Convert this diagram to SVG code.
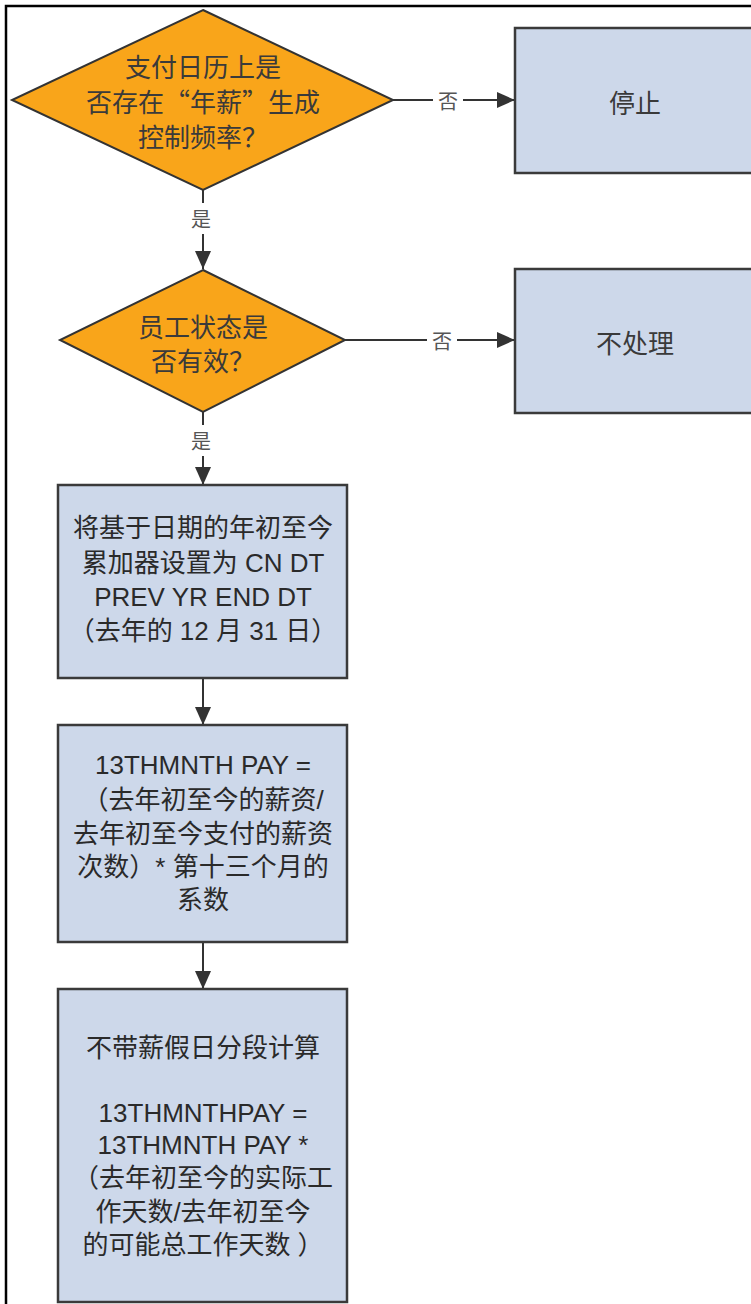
<svg xmlns="http://www.w3.org/2000/svg" width="751" height="1304" viewBox="0 0 751 1304">
<style>
.frame{fill:none;stroke:#000;stroke-width:2.5}
.dia{fill:#F9A51A;stroke:#333;stroke-width:2}
.box{fill:#CDD8EA;stroke:#3a3a3a;stroke-width:2.5}
.t{font-family:"Liberation Sans","Noto Sans CJK SC",sans-serif;font-size:26px;fill:#2a2a2a;text-anchor:middle;dominant-baseline:central}
.c{font-family:"Noto Sans CJK SC","Liberation Sans",sans-serif;font-size:26px;fill:#3a3a3a;text-anchor:middle;dominant-baseline:central}
.lbl{font-family:"Noto Sans CJK SC",sans-serif;font-size:20px;fill:#555;text-anchor:middle;dominant-baseline:central}
.ln{fill:none;stroke:#333;stroke-width:2}
</style>
<defs>
<marker id="ah" markerUnits="userSpaceOnUse" markerWidth="18" markerHeight="16" refX="18" refY="8" orient="auto">
<path d="M0,0 L18,8 L0,16 z" fill="#333"/>
</marker>
</defs>
<rect class="frame" x="6" y="6" width="760" height="1310"/>
<g id="connectors">
<line class="ln" x1="393" y1="100" x2="433" y2="100"/>
<line class="ln" x1="463" y1="100" x2="515" y2="100" marker-end="url(#ah)"/>
<text class="lbl" x="448" y="100">否</text>
<line class="ln" x1="203" y1="190" x2="203" y2="203"/>
<line class="ln" x1="203" y1="234" x2="203" y2="269" marker-end="url(#ah)"/>
<text class="lbl" x="201" y="218">是</text>
<line class="ln" x1="345" y1="340" x2="427" y2="340"/>
<line class="ln" x1="457" y1="340" x2="515" y2="340" marker-end="url(#ah)"/>
<text class="lbl" x="442" y="340">否</text>
<line class="ln" x1="203" y1="412" x2="203" y2="425"/>
<line class="ln" x1="203" y1="456" x2="203" y2="485" marker-end="url(#ah)"/>
<text class="lbl" x="201" y="440">是</text>
<line class="ln" x1="203" y1="678" x2="203" y2="725" marker-end="url(#ah)"/>
<line class="ln" x1="203" y1="942" x2="203" y2="989" marker-end="url(#ah)"/>
</g>
<g id="d1">
<polygon class="dia" points="203,10 393,100 203,190 12,100"/>
<text class="c" x="203" y="65">支付日历上是</text>
<text class="c" x="203" y="100">否存在“年薪”生成</text>
<text class="c" x="203" y="135">控制频率？</text>
</g>
<g id="stop">
<rect class="box" x="515" y="28" width="250" height="145"/>
<text class="c" x="635" y="101">停止</text>
</g>
<g id="d2">
<polygon class="dia" points="203,270 345,340 203,412 60,340"/>
<text class="c" x="203" y="325">员工状态是</text>
<text class="c" x="203" y="359">否有效？</text>
</g>
<g id="noproc">
<rect class="box" x="515" y="269" width="250" height="144"/>
<text class="c" x="635" y="341">不处理</text>
</g>
<g id="b3">
<rect class="box" x="58" y="485" width="289" height="193"/>
<text class="t" x="203" y="528">将基于日期的年初至今</text>
<text class="t" x="203" y="563">累加器设置为 CN DT</text>
<text class="t" x="203" y="597">PREV YR END DT</text>
<text class="t" x="203" y="631">（去年的 12 月 31 日）</text>
</g>
<g id="b4">
<rect class="box" x="58" y="725" width="289" height="217"/>
<text class="t" x="203" y="765">13THMNTH PAY =</text>
<text class="t" x="203" y="800">（去年初至今的薪资/</text>
<text class="t" x="203" y="834">去年初至今支付的薪资</text>
<text class="t" x="203" y="867">次数）* 第十三个月的</text>
<text class="t" x="203" y="900">系数</text>
</g>
<g id="b5">
<rect class="box" x="58" y="989" width="289" height="313"/>
<text class="t" x="203" y="1048">不带薪假日分段计算</text>
<text class="t" x="203" y="1113">13THMNTHPAY =</text>
<text class="t" x="203" y="1145">13THMNTH PAY *</text>
<text class="t" x="203" y="1178">（去年初至今的实际工</text>
<text class="t" x="203" y="1212">作天数/去年初至今</text>
<text class="t" x="203" y="1245">的可能总工作天数 ）</text>
</g>
</svg>
